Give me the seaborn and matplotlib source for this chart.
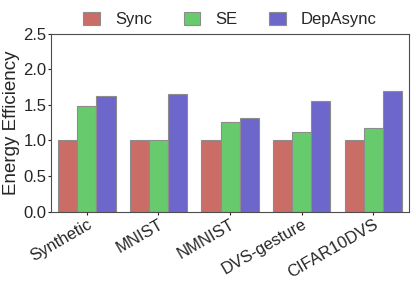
import pandas as pd
import matplotlib
matplotlib.use("Agg")
import matplotlib.pyplot as plt
import seaborn as sns

datasets = ["Synthetic", "MNIST", "NMNIST", "DVS-gesture", "CIFAR10DVS"]
methods = ["Sync", "SE", "DepAsync"]
sync_vals = [1.0, 1.0, 1.0, 1.0, 1.0]
se_vals = [1.48, 1.0, 1.26, 1.12, 1.18]
dep_vals = [1.63, 1.66, 1.32, 1.55, 1.70]

sns.set_style("ticks")
plt.rcParams['font.family'] = ['Liberation Sans', 'DejaVu Sans']

rows = []
for vals, m in zip([sync_vals, se_vals, dep_vals], methods):
    for d, v in zip(datasets, vals):
        rows.append({"dataset": d, "method": m, "value": v})
df = pd.DataFrame(rows)

fig, ax = plt.subplots(figsize=(4.16, 2.82), dpi=100)
sns.barplot(data=df, x="dataset", y="value", hue="method",
            palette=sns.color_palette("hls", 3), edgecolor="0.55",
            linewidth=0.8, ax=ax)

ax.set_ylim(0, 2.5)
ax.set_yticks([0, 0.5, 1.0, 1.5, 2.0, 2.5])
ax.set_xlabel("")
ax.set_ylabel("Energy Efficiency", fontsize=13.5, labelpad=2)
ax.tick_params(axis='both', labelsize=12, length=2, pad=1.5)
plt.setp(ax.get_xticklabels(), rotation=30, ha='right', rotation_mode='anchor')
for s in ax.spines.values():
    s.set_color("0.3")

ax.legend(loc='lower center', bbox_to_anchor=(0.5, 0.99), ncol=3,
          frameon=False, fontsize=12, handlelength=1.0, handleheight=0.9,
          handletextpad=0.9, columnspacing=1.9, borderaxespad=0.1)

plt.subplots_adjust(left=0.123, right=0.983, top=0.88, bottom=0.25)
plt.savefig("out.png", dpi=100)
